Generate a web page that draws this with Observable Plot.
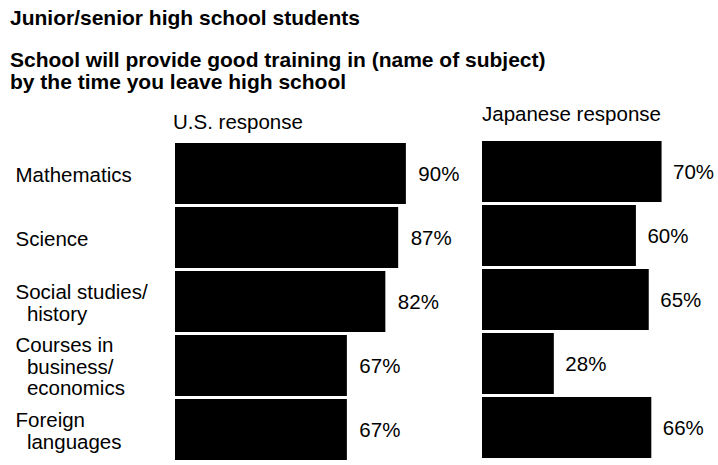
<!DOCTYPE html>
<html>
<head>
<meta charset="utf-8">
<script src="https://cdn.jsdelivr.net/npm/d3@7"></script>
<script src="https://cdn.jsdelivr.net/npm/@observablehq/plot@0.6"></script>
<style>
  html, body { margin: 0; padding: 0; background: #fff; }
  body { position: relative; width: 718px; height: 465px; overflow: hidden;
         font-family: "Liberation Sans", Arial, Helvetica, sans-serif; color: #000; }
  .t { position: absolute; white-space: nowrap; }
  .bold { font-weight: bold; font-size: 21px; }
  .hdr { font-size: 20.5px; line-height: 20.5px; }
  .panel { position: absolute; }
</style>
</head>
<body>
<div class="t bold" id="title" style="left:10px; top:7px; line-height:21px;"></div>
<div class="t bold" id="subtitle" style="left:10px; top:49px; line-height:22px;"></div>
<div class="t hdr" id="hdrUS" style="left:173px; top:112px;"></div>
<div class="t hdr" id="hdrJP" style="left:482px; top:104px;"></div>
<div class="panel" id="us" style="left:0px; top:135px;"></div>
<div class="panel" id="jp" style="left:482px; top:133px;"></div>
<script>
// ---- data ----
const titleText = "Junior/senior high school students";
const subtitleLines = ["School will provide good training in (name of subject)", "by the time you leave high school"];
const panelTitles = ["U.S. response", "Japanese response"];
const subjects = ["Mathematics", "Science", "Social studies/history", "Courses in business/economics", "Foreign languages"];
const subjectLabels = [
  "Mathematics",
  "Science",
  "Social studies/\n\u00a0\u00a0history",
  "Courses in\n\u00a0\u00a0business/\n\u00a0\u00a0economics",
  "Foreign\n\u00a0\u00a0languages"
];
const usValues = [90, 87, 82, 67, 67];
const jpValues = [70, 60, 65, 28, 66];

// ---- text ----
document.getElementById("title").textContent = titleText;
document.getElementById("subtitle").innerHTML = subtitleLines.join("<br>");
document.getElementById("hdrUS").textContent = panelTitles[0];
document.getElementById("hdrJP").textContent = panelTitles[1];

const rows = subjects.map((s, i) => ({subject: s, label: subjectLabels[i], us: usValues[i], jp: jpValues[i]}));

const font = {fontFamily: "'Liberation Sans', Arial, Helvetica, sans-serif", fontSize: "20.5px", background: "white", overflow: "visible", color: "black"};
const yScale = {domain: subjects, padding: 0.05, axis: null};
const xDomain = [0, 92];

const usPlot = Plot.plot({
  width: 482,
  height: 330,
  marginLeft: 175,
  marginRight: 71,
  marginTop: 2,
  marginBottom: 0,
  style: font,
  x: {domain: xDomain, axis: null},
  y: yScale,
  marks: [
    Plot.barX(rows, {x: "us", y: "subject", fill: "black"}),
    Plot.text(rows, {y: "subject", text: "label", frameAnchor: "left", textAnchor: "start", dx: -160, dy: 1, lineAnchor: "middle", lineHeight: 1.05, fontSize: 20.5, fill: "black"}),
    Plot.text(rows, {x: "us", y: "subject", text: d => d.us + "%", textAnchor: "start", dx: 12, dy: 0, fontSize: 20.5, fill: "black"})
  ]
});
document.getElementById("us").appendChild(usPlot);

const jpPlot = Plot.plot({
  width: 236,
  height: 330,
  marginLeft: 0,
  marginRight: 0,
  marginTop: 2,
  marginBottom: 0,
  style: font,
  x: {domain: xDomain, axis: null},
  y: yScale,
  marks: [
    Plot.barX(rows, {x: "jp", y: "subject", fill: "black"}),
    Plot.text(rows, {x: "jp", y: "subject", text: d => d.jp + "%", textAnchor: "start", dx: 11, dy: 0, fontSize: 20.5, fill: "black"})
  ]
});
document.getElementById("jp").appendChild(jpPlot);
</script>
</body>
</html>
